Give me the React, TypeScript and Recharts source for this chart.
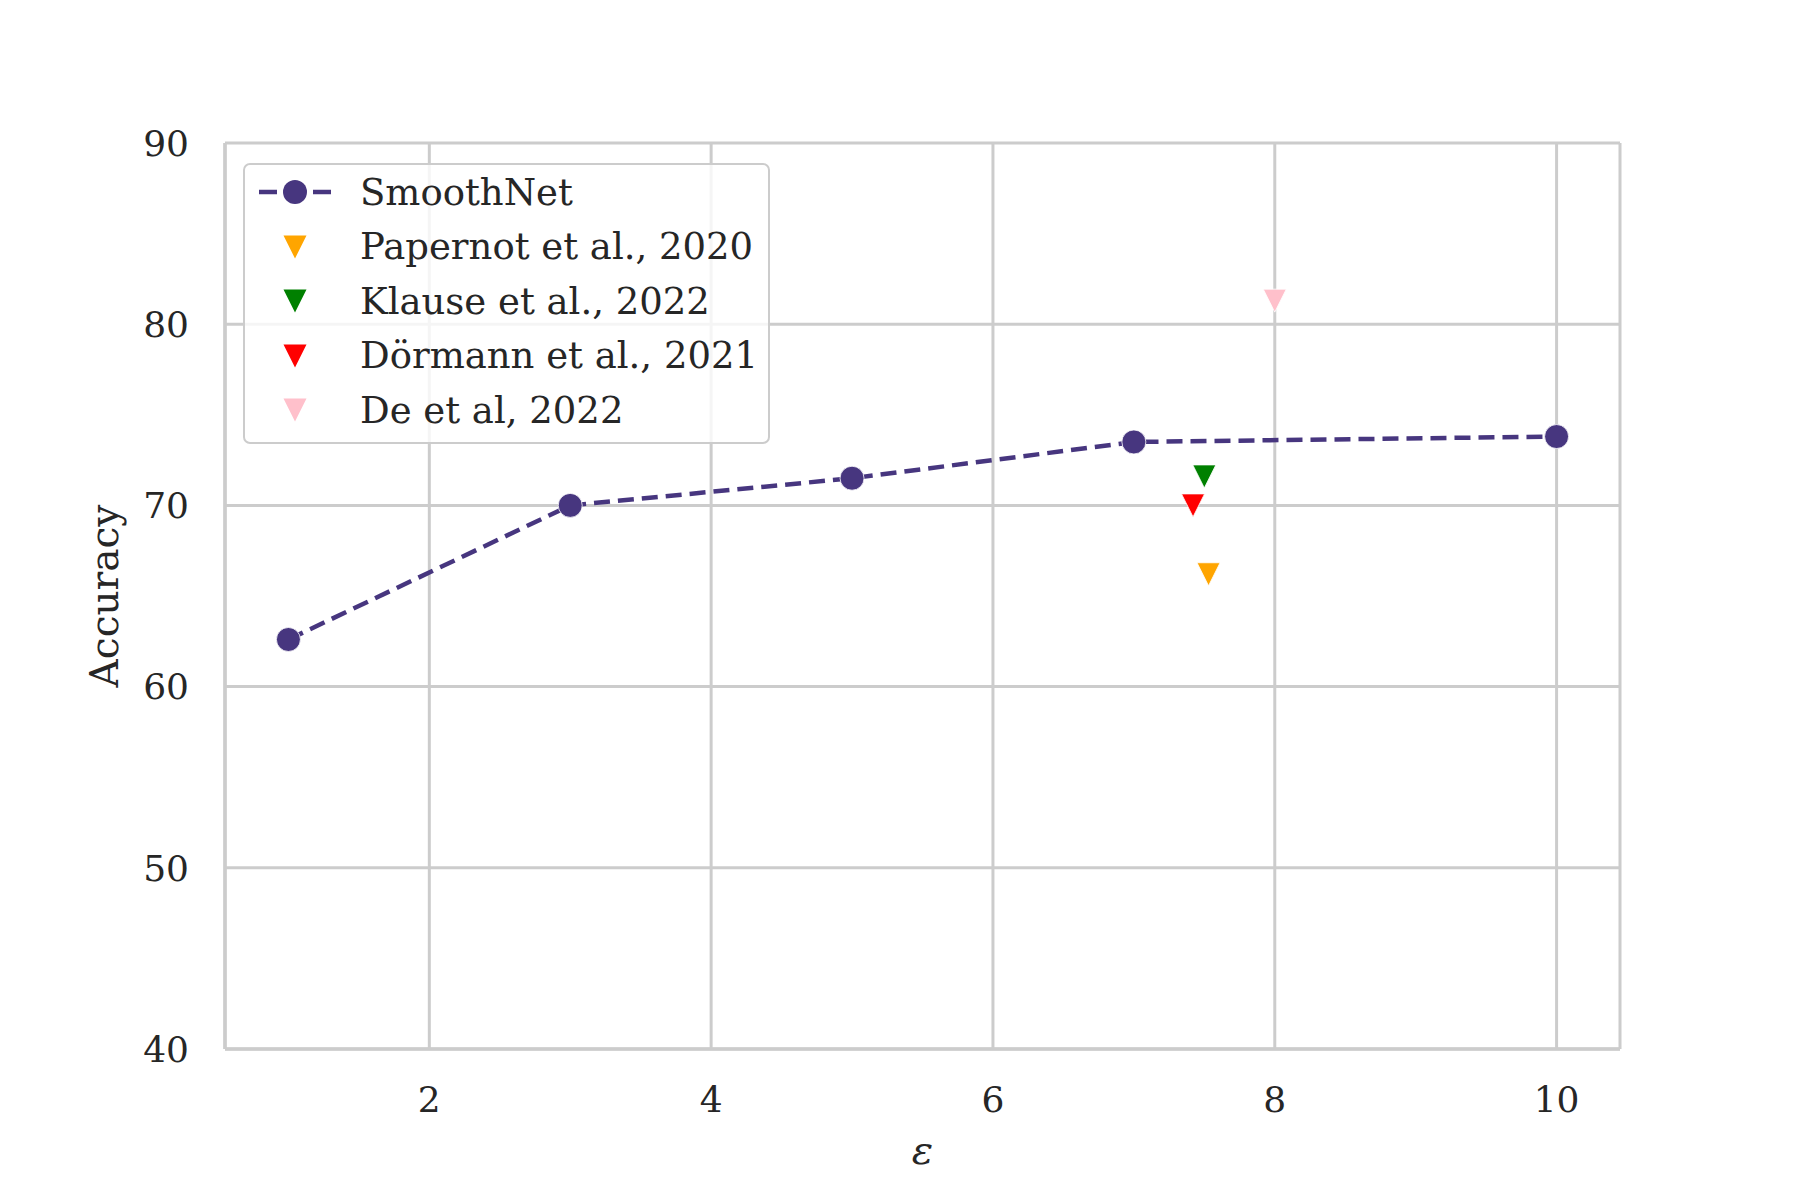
import { ComposedChart, Line, Scatter, XAxis, YAxis, CartesianGrid, Legend, Label } from 'recharts'

// SmoothNet accuracy at each privacy budget
const epsilons = [1, 3, 5, 7, 10]
const smoothNetAcc = [62.6, 70.0, 71.5, 73.5, 73.8]

// single-point baselines from other papers
const baselineNames = ['Papernot et al., 2020', 'Klause et al., 2022', 'Dörmann et al., 2021', 'De et al, 2022']
const baselineEps = [7.53, 7.5, 7.42, 8.0]
const baselineAcc = [66.2, 71.6, 70.0, 81.3]
const baselineColors = ['#ffa500', '#008000', '#ff0000', '#ffc0cb']

const xTicks = [2, 4, 6, 8, 10]
const yTicks = [40, 50, 60, 70, 80, 90]

const LINE_COLOR = '#47367f'
const GRID = '#cccccc'
const TEXT = '#262626'
const FONT = '"DejaVu Serif", serif'

const smoothData = epsilons.map((x, i) => ({ x, y: smoothNetAcc[i] }))
const baselineData = baselineNames.map((name, i) => ({ name, color: baselineColors[i], data: [{ x: baselineEps[i], y: baselineAcc[i] }] }))

const TRI = 11.5

function Triangle(props: any) {
  const { cx, cy, fill } = props
  if (cx == null || cy == null) return null
  return <path d={`M${cx - TRI},${cy - TRI}L${cx + TRI},${cy - TRI}L${cx},${cy + TRI}Z`} fill={fill} stroke="#ffffff" strokeWidth={0.8} />
}

function LegendBox() {
  const rows = [{ name: 'SmoothNet', color: LINE_COLOR, line: true }, ...baselineData.map((b) => ({ name: b.name, color: b.color, line: false }))]
  return (
    <div
      style={{
        width: 527,
        height: 281,
        boxSizing: 'border-box',
        border: `2.5px solid ${GRID}`,
        borderRadius: 7,
        background: 'rgba(255,255,255,0.8)',
        paddingTop: 0,
        fontFamily: FONT,
        fontSize: 37,
        color: TEXT,
      }}
    >
      {rows.map((r) => (
        <div key={r.name} style={{ display: 'flex', alignItems: 'center', height: 54.5 }}>
          <svg width={100} height={40} style={{ marginLeft: 12, flex: 'none' }}>
            {r.line ? (
              <>
                <line x1={2} y1={20} x2={20} y2={20} stroke={r.color} strokeWidth={4.5} />
                <line x1={56} y1={20} x2={74} y2={20} stroke={r.color} strokeWidth={4.5} />
                <circle cx={38} cy={20} r={12} fill={r.color} />
              </>
            ) : (
              <path d={`M${38 - TRI},${20 - TRI}L${38 + TRI},${20 - TRI}L38,${20 + TRI}Z`} fill={r.color} />
            )}
          </svg>
          <span style={{ marginLeft: 3, whiteSpace: 'nowrap' }}>{r.name}</span>
        </div>
      ))}
    </div>
  )
}

export default function App() {
  const tickStyle = { fontFamily: FONT, fontSize: 36, fill: TEXT }
  return (
    <div style={{ position: 'absolute', left: 0, top: 0, width: 1800, height: 1200, background: '#fff' }}>
      <ComposedChart width={1800} height={1200} margin={{ top: 143, right: 180, left: 0, bottom: 0 }}>
        <CartesianGrid stroke={GRID} strokeWidth={3} />
        <XAxis
          dataKey="x"
          type="number"
          domain={[0.55, 10.45]}
          ticks={xTicks}
          height={151}
          tickSize={0}
          tickMargin={37}
          tick={tickStyle}
          axisLine={{ stroke: GRID, strokeWidth: 3.5 }}
          allowDataOverflow
        >
          <Label value="ε" position="insideBottom" offset={36} style={{ fontFamily: FONT, fontSize: 40, fontStyle: 'italic', fill: TEXT }} />
        </XAxis>
        <YAxis
          dataKey="y"
          type="number"
          domain={[40, 90]}
          ticks={yTicks}
          width={225}
          tickSize={0}
          tickMargin={36}
          tick={tickStyle}
          axisLine={{ stroke: GRID, strokeWidth: 3.5 }}
          allowDataOverflow
        >
          <Label value="Accuracy" angle={-90} position="insideLeft" offset={104} style={{ fontFamily: FONT, fontSize: 39, fill: TEXT, textAnchor: 'middle' }} />
        </YAxis>
        <YAxis yAxisId="right" orientation="right" width={0} domain={[40, 90]} tick={false} axisLine={{ stroke: GRID, strokeWidth: 3.5 }} />
        <XAxis xAxisId="top" orientation="top" type="number" height={0} domain={[0.55, 10.45]} tick={false} axisLine={{ stroke: GRID, strokeWidth: 3.5 }} />
        <Line
          data={smoothData}
          dataKey="y"
          name="SmoothNet"
          stroke={LINE_COLOR}
          strokeWidth={4.5}
          strokeDasharray="16 8"
          dot={{ r: 12, fill: LINE_COLOR, stroke: '#ffffff', strokeWidth: 0.8, strokeDasharray: '0' }}
          isAnimationActive={false}
        />
        {baselineData.map((b) => (
          <Scatter key={b.name} data={b.data} dataKey="y" name={b.name} fill={b.color} shape={Triangle} isAnimationActive={false} />
        ))}
        <Legend
          layout="horizontal"
          verticalAlign="middle"
          align="center"
          content={() => <LegendBox />}
          wrapperStyle={{ top: 163, left: 243, width: 527, height: 281 }}
        />
      </ComposedChart>
    </div>
  )
}
